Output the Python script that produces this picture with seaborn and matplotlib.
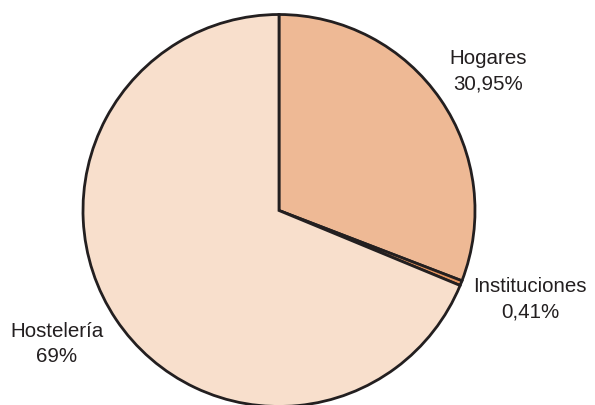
import matplotlib
matplotlib.use("Agg")
import matplotlib.pyplot as plt
import seaborn as sns

sns.set_theme(style="white")
plt.rcParams['font.family'] = ['Liberation Sans', 'DejaVu Sans']

categories = ["Hogares", "Instituciones", "Hostelería"]
values = [30.95, 0.41, 69.0]
value_labels = ["30,95%", "0,41%", "69%"]
colors = ["#EEB995", "#E8965F", "#F8DFCC"]

W, H = 595, 405
fig = plt.figure(figsize=(W / 100, H / 100), dpi=100)
cx, cy, r = 279, 210.5, 196
ax = fig.add_axes([(cx - r) / W, (H - cy - r) / H, 2 * r / W, 2 * r / H])
ax.pie(values, colors=colors, startangle=90, counterclock=False,
       wedgeprops=dict(edgecolor="#231F20", linewidth=2.0, joinstyle="miter"))
ax.set_xlim(-1, 1)
ax.set_ylim(-1, 1)
ax.set_aspect("equal")
ax.axis("off")

label_pos = [(488, 71), (530, 299), (57, 344)]
for cat, lab, (px, py) in zip(categories, value_labels, label_pos):
    fig.text(px / W, 1 - py / H, f"{cat}\n{lab}", ha="center", va="center",
             multialignment="center", fontsize=14.8, color="#231F20",
             linespacing=1.45)

fig.savefig("out.png", dpi=100, facecolor="white")
